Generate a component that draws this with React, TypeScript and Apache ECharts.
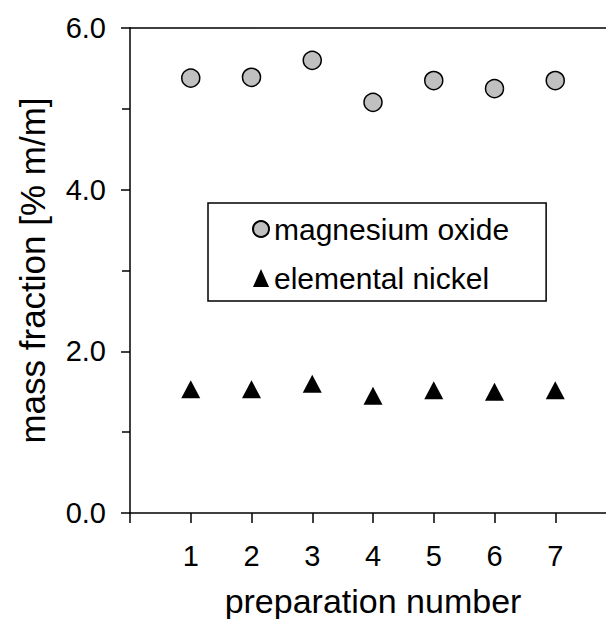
import React, { useEffect, useRef } from "react";
import * as echarts from "echarts";

const preparations = [1, 2, 3, 4, 5, 6, 7];
const magnesiumOxide = [5.38, 5.39, 5.6, 5.08, 5.35, 5.25, 5.35];
const elementalNickel = [1.53, 1.53, 1.6, 1.45, 1.52, 1.5, 1.52];
const seriesNames = ["magnesium oxide", "elemental nickel"];
const yTickValues = [0, 2, 4, 6];

const FONT = "'Liberation Sans', Arial, Helvetica, sans-serif";

export default function App() {
  const ref = useRef<HTMLDivElement>(null);
  useEffect(() => {
    if (!ref.current) return;
    const chart = echarts.init(ref.current, null, { renderer: "svg" });
    const option: any = {
      animation: false,
      backgroundColor: "#ffffff",
      textStyle: { fontFamily: FONT, color: "#000" },
      grid: {
        left: 130,
        top: 28,
        width: 486,
        height: 485,
        outerBoundsMode: "none",
        containLabel: false,
        show: false,
      },
      legend: {
        orient: "vertical",
        left: 208,
        top: 203,
        padding: [11, 37, 8, 44],
        itemGap: 19,
        itemWidth: 16,
        itemHeight: 18,
        itemTextGap: 2,
        borderColor: "#000",
        borderWidth: 1.5,
        backgroundColor: "#fff",
        textStyle: { fontFamily: FONT, fontSize: 30, color: "#000" },
        data: seriesNames,
      },
      xAxis: [
        {
          type: "value",
          min: 0,
          max: 8,
          interval: 1,
          name: "preparation number",
          nameLocation: "middle",
          nameGap: 71,
          nameTextStyle: { fontFamily: FONT, fontSize: 34, lineHeight: 34, color: "#000" },
          axisLine: { show: true, onZero: false, lineStyle: { color: "#000", width: 1.5 } },
          axisTick: { show: true, inside: false, length: 10, lineStyle: { color: "#000", width: 1.5 } },
          axisLabel: {
            margin: 28,
            fontFamily: FONT,
            fontSize: 29,
            color: "#000",
            formatter: (v: number) => (preparations.includes(v) ? String(v) : ""),
          },
          splitLine: { show: false },
        },
        {
          type: "value",
          position: "top",
          min: 0,
          max: 8,
          interval: 1,
          axisLine: { show: true, onZero: false, lineStyle: { color: "#000", width: 1.5 } },
          axisTick: { show: false },
          axisLabel: { show: false },
          splitLine: { show: false },
        },
      ],
      yAxis: {
        type: "value",
        min: 0,
        max: 6,
        interval: 2,
        name: "mass fraction [% m/m]",
        nameLocation: "middle",
        nameGap: 80,
        nameTextStyle: { fontFamily: FONT, fontSize: 35, color: "#000" },
        axisLine: { show: true, lineStyle: { color: "#000", width: 1.5 } },
        axisTick: { show: true, inside: false, length: 9, lineStyle: { color: "#000", width: 1.5 } },
        minorTick: { show: true, splitNumber: 2, length: 8, lineStyle: { color: "#000", width: 1.5 } },
        minorSplitLine: { show: false },
        axisLabel: {
          margin: 24,
          fontFamily: FONT,
          fontSize: 29,
          color: "#000",
          formatter: (v: number) => (yTickValues.includes(v) ? v.toFixed(1) : ""),
        },
        splitLine: { show: false },
      },
      series: [
        {
          name: seriesNames[0],
          type: "scatter",
          xAxisIndex: 0,
          symbol: "circle",
          symbolSize: 18,
          itemStyle: { color: "#c0c0c0", borderColor: "#000", borderWidth: 1.5, opacity: 1 },
          data: preparations.map((p, i) => [p, magnesiumOxide[i]]),
          z: 3,
        },
        {
          name: seriesNames[1],
          type: "scatter",
          xAxisIndex: 0,
          symbol: "triangle",
          symbolSize: [19, 18],
          itemStyle: { color: "#000", borderColor: "#000", borderWidth: 0, opacity: 1 },
          data: preparations.map((p, i) => [p, elementalNickel[i]]),
          z: 3,
        },
      ],
    };
    chart.setOption(option);
    return () => chart.dispose();
  }, []);
  return (
    <div
      ref={ref}
      style={{ position: "fixed", left: 0, top: 0, width: 606, height: 619, background: "#fff" }}
    />
  );
}
